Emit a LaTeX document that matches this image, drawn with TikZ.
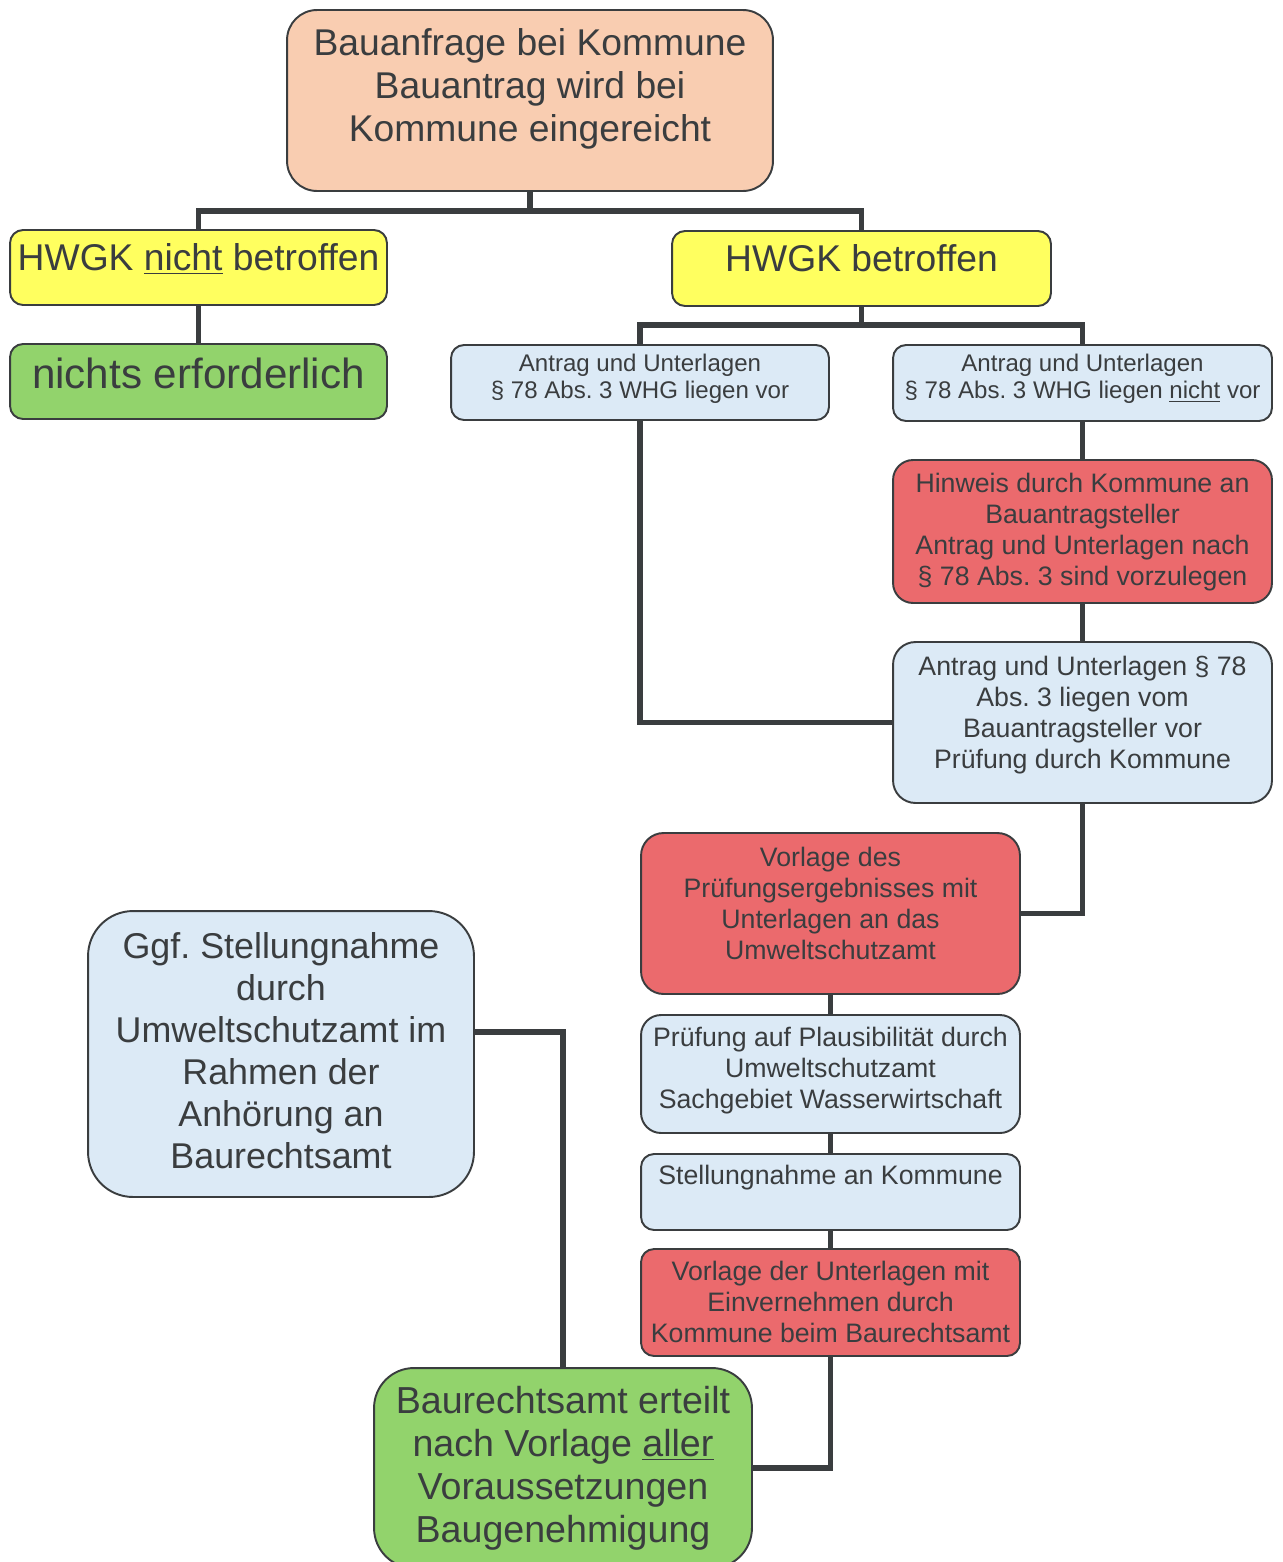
\documentclass[tikz,border=0pt]{standalone}
\usepackage{fontspec}
\setmainfont{Liberation Sans}
\usetikzlibrary{calc}
\frenchspacing

\definecolor{peach}{HTML}{F9CDB1}
\definecolor{hwgkyellow}{HTML}{FFFF5F}
\definecolor{okgreen}{HTML}{92D36C}
\definecolor{paleblue}{HTML}{DCEAF6}
\definecolor{alertred}{HTML}{EB6A6D}
\definecolor{inkgray}{HTML}{3A3D3F}

\newcommand{\txtbig}{\fontsize{21.2pt}{24.5pt}\selectfont}
\newcommand{\txtmid}{\fontsize{15.2pt}{17.6pt}\selectfont}
\newcommand{\txtsmall}{\fontsize{13.7pt}{15.4pt}\selectfont}
\newcommand{\txtlarge}{\fontsize{20.4pt}{23.8pt}\selectfont}
\newcommand{\txtfinal}{\fontsize{21.4pt}{24.5pt}\selectfont}
\newcommand{\txtnichts}{\fontsize{24pt}{28pt}\selectfont}

\tikzset{
    box/.style={rectangle, rounded corners=0.26cm, draw=inkgray, line width=1.1pt, text=inkgray, align=center, inner sep=0pt},
    link/.style={draw=inkgray, line width=3pt},
}

\begin{document}
\begin{tikzpicture}[x=0.02cm, y=-0.02cm]
        \useasboundingbox (0,0) rectangle (1283,1562);

        % Anfrage
        \node[box, fill=peach, rounded corners=0.6cm, minimum width=9.72cm, minimum height=3.62cm, font=\txtbig, text depth=17.6pt] (anfrage) at (530,100.5) {Bauanfrage bei Kommune\\Bauantrag wird bei\\Kommune eingereicht};

        % HWGK
        \node[box, fill=hwgkyellow, minimum width=7.54cm, minimum height=1.5cm, font=\txtbig, text depth=11.4pt] (hwgknicht) at (198.5,267.5) {HWGK \underline{nicht} betroffen};
        \node[box, fill=hwgkyellow, minimum width=7.58cm, minimum height=1.5cm, font=\txtbig, text depth=12pt] (hwgkja) at (861.5,268.5) {HWGK betroffen};

        \node[box, fill=okgreen, minimum width=7.54cm, minimum height=1.5cm, font=\txtnichts, text depth=9.7pt] (nichts) at (198.5,381.5) {nichts erforderlich};

        % Unterlagen
        \node[box, fill=paleblue, minimum width=7.56cm, minimum height=1.5cm, font=\txtsmall, text depth=6.8pt] (liegenvor) at (640,382.5) {Antrag und Unterlagen\\\S~78 Abs. 3 WHG liegen vor};
        \node[box, fill=paleblue, minimum width=7.58cm, minimum height=1.52cm, font=\txtsmall, text depth=7.4pt] (liegennicht) at (1082.5,383) {Antrag und Unterlagen\\\S~78 Abs. 3 WHG liegen \underline{nicht} vor};

        \node[box, fill=alertred, rounded corners=0.4cm, minimum width=7.58cm, minimum height=2.86cm, font=\txtmid, text depth=2.8pt] (hinweis) at (1082.5,531.5) {Hinweis durch Kommune an\\Bauantragsteller\\Antrag und Unterlagen nach\\\S~78 Abs. 3 sind vorzulegen};
        \node[box, fill=paleblue, rounded corners=0.45cm, minimum width=7.58cm, minimum height=3.22cm, font=\txtmid, text depth=12pt] (pruefkommune) at (1082.5,722.5) {Antrag und Unterlagen \S~78\\Abs. 3 liegen vom\\Bauantragsteller vor\\Pr\"ufung durch Kommune};

        % Umweltschutzamt
        \node[box, fill=alertred, rounded corners=0.45cm, minimum width=7.58cm, minimum height=3.22cm, font=\txtmid, text depth=12pt] (vorlageusa) at (830.5,913.5) {Vorlage des\\Pr\"ufungsergebnisses mit\\Unterlagen an das\\Umweltschutzamt};
        \node[box, fill=paleblue, rounded corners=0.4cm, minimum width=7.58cm, minimum height=2.36cm, font=\txtmid, text depth=6.8pt] (plausi) at (830.5,1074) {Pr\"ufung auf Plausibilit\"at durch\\Umweltschutzamt\\Sachgebiet Wasserwirtschaft};
        \node[box, fill=paleblue, minimum width=7.58cm, minimum height=1.52cm, font=\txtmid, text depth=19.4pt] (stellung) at (830.5,1192) {Stellungnahme an Kommune};
        \node[box, fill=alertred, minimum width=7.58cm, minimum height=2.14cm, font=\txtmid, text depth=0.6pt] (vorlagebra) at (830.5,1302.5) {Vorlage der Unterlagen mit\\Einvernehmen durch\\Kommune beim Baurechtsamt};

        % Baurechtsamt
        \node[box, fill=paleblue, rounded corners=0.9cm, minimum width=7.72cm, minimum height=5.72cm, font=\txtlarge, text depth=4pt] (anhoerung) at (281,1054) {Ggf. Stellungnahme\\durch\\Umweltschutzamt im\\Rahmen der\\Anh\"orung an\\Baurechtsamt};
        \node[box, fill=okgreen, rounded corners=0.8cm, minimum width=7.56cm, minimum height=4cm, font=\txtfinal, text depth=4.5pt] (genehmigung) at (563,1468) {Baurechtsamt erteilt\\nach Vorlage \underline{aller}\\Voraussetzungen\\Baugenehmigung};

        % Verbindungen
        \coordinate (split1) at (530,211);
        \coordinate (split2) at (861.5,325);
        \draw[link] (anfrage.south) -- (split1);
        \draw[link] (hwgknicht.north) |- (split1) -| (hwgkja.north);
        \draw[link] (hwgknicht) -- (nichts);
        \draw[link] (hwgkja.south) -- (split2);
        \draw[link] (liegenvor.north) |- (split2) -| (liegennicht.north);
        \draw[link] (liegennicht) -- (hinweis);
        \draw[link] (hinweis) -- (pruefkommune);
        \draw[link] (liegenvor.south) |- (pruefkommune.west);
        \draw[link] (pruefkommune.south) |- (vorlageusa.east);
        \draw[link] (vorlageusa) -- (plausi);
        \draw[link] (plausi) -- (stellung);
        \draw[link] (stellung) -- (vorlagebra);
        \draw[link] (vorlagebra.south) |- (genehmigung.east);
        \draw[link] ([yshift=0.44cm]anhoerung.east) -| (genehmigung.north);
\end{tikzpicture}
\end{document}
